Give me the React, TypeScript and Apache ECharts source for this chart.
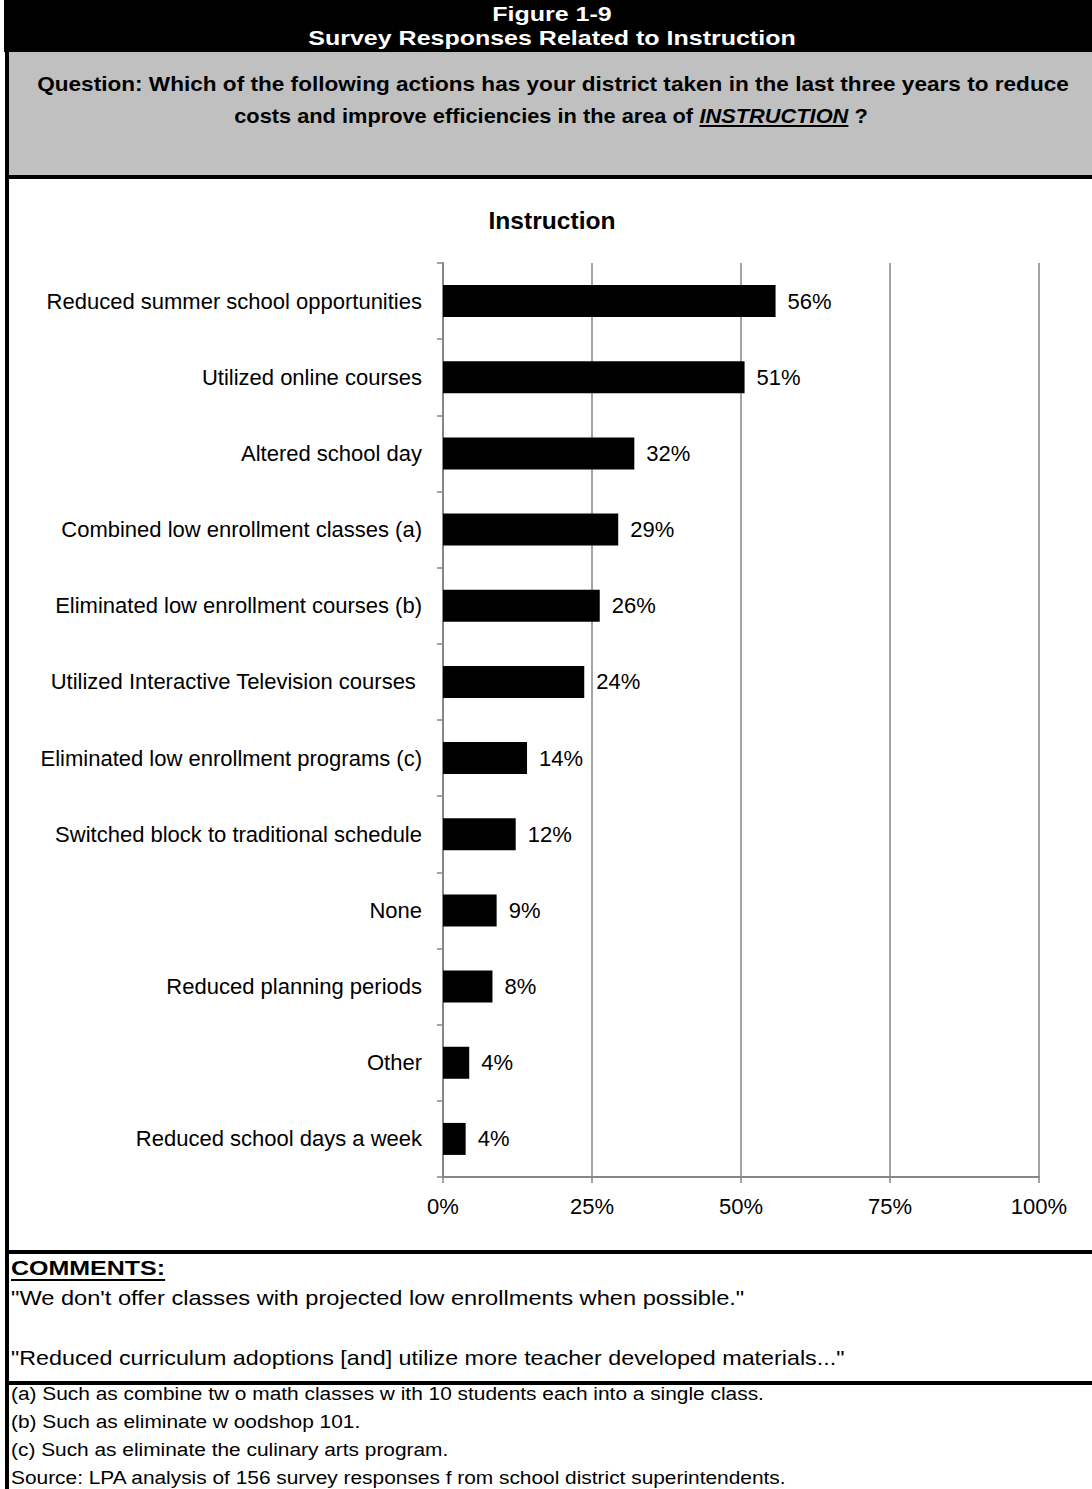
import React, { useEffect, useRef } from "react";
import * as echarts from "echarts";

const categories = [
  "Reduced summer school opportunities",
  "Utilized online courses",
  "Altered school day",
  "Combined low enrollment classes (a)",
  "Eliminated low enrollment courses (b)",
  "Utilized Interactive Television courses ",
  "Eliminated low enrollment programs (c)",
  "Switched block to traditional schedule",
  "None",
  "Reduced planning periods",
  "Other",
  "Reduced school days a week",
];
const values = [55.8, 50.6, 32.1, 29.4, 26.3, 23.7, 14.1, 12.2, 9.0, 8.3, 4.4, 3.8];
const xTicks = [0, 25, 50, 75, 100];

const headerLines = ["Figure 1-9", "Survey Responses Related to Instruction"];
const questionLine1 =
  "Question: Which of the following actions has your district taken in the last three years to reduce";
const questionLine2Parts = ["costs and improve efficiencies in the area of ", "INSTRUCTION", " ?"];
const chartTitle = "Instruction";
const commentsHeading = "COMMENTS:";
const comments = [
  "\"We don't offer classes with projected low enrollments when possible.\"",
  "\"Reduced curriculum adoptions [and] utilize more teacher developed materials...\"",
];
const footnotes = [
  "(a) Such as combine tw o math classes w ith 10 students each into a single class.",
  "(b) Such as eliminate w oodshop 101.",
  "(c) Such as eliminate the culinary arts program.",
  "Source: LPA analysis of 156 survey responses f rom school district superintendents.",
];

const FONT = '"Liberation Sans", Arial, sans-serif';

function measure(text: string, font: string): number {
  const c = document.createElement("canvas").getContext("2d");
  if (!c) return text.length * 10;
  c.font = font;
  return c.measureText(text).width;
}

export default function App() {
  const ref = useRef<HTMLDivElement>(null);
  useEffect(() => {
    if (!ref.current) return;
    const chart = echarts.init(ref.current, undefined, { renderer: "svg" });
    const W = 1092;

    const txt = (
      text: string,
      x: number,
      y: number,
      size: number,
      opts: any = {}
    ) => ({
      type: "text",
      x,
      y,
      scaleX: opts.sx || 1,
      silent: true,
      style: {
        text,
        fill: opts.fill || "#000",
        fontSize: size,
        fontFamily: FONT,
        fontWeight: opts.bold ? "bold" : "normal",
        fontStyle: opts.italic ? "italic" : "normal",
        textAlign: opts.align || "left",
        textVerticalAlign: "middle",
      },
    });

    // header
    const hSize = 20;
    const hSx = 1.25;
    const hCx = 552;

    // question
    const qSize = 20;
    const qSx = 1.13;
    const q2Sx = 1.09;
    const qCx = 553;
    const q2Cx = 551;
    const qFont = `bold ${qSize}px ${FONT}`;
    const qFontI = `italic bold ${qSize}px ${FONT}`;
    const wA = measure(questionLine2Parts[0], qFont) * q2Sx;
    const wB = measure(questionLine2Parts[1], qFontI) * q2Sx;
    const wC = measure(questionLine2Parts[2], qFont) * q2Sx;
    const startX = q2Cx - (wA + wB + wC) / 2;
    const q2y = 116;

    // comments
    const cSize = 20;
    const cSx = 1.25;
    const comW = measure(commentsHeading, `bold ${cSize}px ${FONT}`) * cSx;
    const fSize = 18;
    const fSx = 1.16;

    const graphic: any[] = [
      { type: "rect", shape: { x: 4, y: 0, width: W - 4, height: 52 }, style: { fill: "#000" } },
      { type: "rect", shape: { x: 9, y: 52, width: W - 9, height: 123 }, style: { fill: "#C0C0C0" } },
      { type: "rect", shape: { x: 5, y: 175, width: W - 5, height: 4 }, style: { fill: "#000" } },
      { type: "rect", shape: { x: 5, y: 0, width: 4, height: 1489 }, style: { fill: "#000" } },
      { type: "rect", shape: { x: 5, y: 1250, width: W - 5, height: 4 }, style: { fill: "#000" } },
      { type: "rect", shape: { x: 5, y: 1381, width: W - 5, height: 4 }, style: { fill: "#000" } },
      txt(headerLines[0], hCx, 14, hSize, { bold: true, fill: "#fff", align: "center", sx: hSx }),
      txt(headerLines[1], hCx, 38, hSize, { bold: true, fill: "#fff", align: "center", sx: hSx }),
      txt(questionLine1, qCx, 84, qSize, { bold: true, align: "center", sx: qSx }),
      txt(questionLine2Parts[0], startX, q2y, qSize, { bold: true, sx: q2Sx }),
      txt(questionLine2Parts[1], startX + wA, q2y, qSize, { bold: true, italic: true, sx: q2Sx }),
      txt(questionLine2Parts[2], startX + wA + wB, q2y, qSize, { bold: true, sx: q2Sx }),
      {
        type: "line",
        shape: { x1: startX + wA, y1: q2y + 10, x2: startX + wA + wB, y2: q2y + 10 },
        style: { stroke: "#000", lineWidth: 2 },
      },
      txt(chartTitle, 552, 221, 23, { bold: true, align: "center", sx: 1.07 }),
      txt(commentsHeading, 11, 1268, cSize, { bold: true, sx: cSx }),
      {
        type: "line",
        shape: { x1: 11, y1: 1280, x2: 11 + comW, y2: 1280 },
        style: { stroke: "#000", lineWidth: 2 },
      },
      txt(comments[0], 11, 1298, cSize, { sx: 1.182 }),
      txt(comments[1], 11, 1358, cSize, { sx: 1.165 }),
      ...footnotes.map((f, i) => txt(f, 11, 1394 + i * 28, fSize, { sx: fSx })),
    ];

    chart.setOption({
      animation: false,
      backgroundColor: "#fff",
      grid: { left: 443, right: 53, top: 263, bottom: 312, containLabel: false },
      xAxis: {
        type: "value",
        min: 0,
        max: 100,
        interval: 25,
        axisLine: { show: true, lineStyle: { color: "#868686", width: 2 } },
        axisTick: { show: true, length: 6, lineStyle: { color: "#868686", width: 1.5 } },
        splitLine: { show: true, lineStyle: { color: "#868686", width: 1.5 } },
        axisLabel: {
          formatter: (v: number) => `${v}%`,
          fontSize: 22,
          fontFamily: FONT,
          color: "#000",
          margin: 18,
          customValues: xTicks,
        },
      },
      yAxis: {
        type: "category",
        data: categories,
        inverse: true,
        axisLine: { show: true, lineStyle: { color: "#868686", width: 2 } },
        axisTick: { show: true, length: 6, lineStyle: { color: "#868686", width: 1.5 } },
        splitLine: { show: false },
        axisLabel: {
          fontSize: 22,
          fontFamily: FONT,
          color: "#000",
          margin: 21,
        },
      },
      series: [
        {
          type: "bar",
          data: values,
          barWidth: 32,
          itemStyle: { color: "#000" },
          label: {
            show: true,
            position: "right",
            distance: 12,
            fontSize: 22,
            fontFamily: FONT,
            color: "#000",
            formatter: (p: any) => `${Math.round(p.value)}%`,
          },
        },
      ],
      graphic,
    });
    return () => chart.dispose();
  }, []);
  return (
    <div
      ref={ref}
      style={{ position: "absolute", left: 0, top: 0, width: 1092, height: 1489 }}
    />
  );
}
